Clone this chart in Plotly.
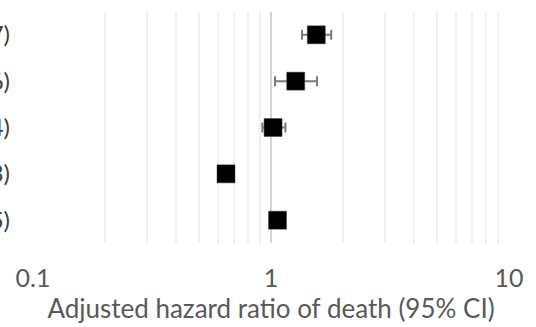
import plotly.graph_objects as go

# Data (hazard ratios and 95% CI)
groups = ["Group 1 (n=1,127)", "Group 2 (n=846)", "Group 3 (n=2,314)", "Group 4 (n=593)", "Group 5 (n=1,065)"]
hr = [1.55, 1.27, 1.02, 0.647, 1.065]
ci_low = [1.35, 1.04, 0.92, 0.61, 1.02]
ci_high = [1.79, 1.56, 1.15, 0.69, 1.11]
x_tick_vals = [0.1, 1, 10]
x_tick_text = ["0.1", "1", "10"]
x_title = "Adjusted hazard ratio of death (95% CI)"

err_plus = [h - l for h, l in zip(ci_high, hr)]
err_minus = [h - l for h, l in zip(hr, ci_low)]

fig = go.Figure()
fig.add_trace(go.Scatter(
    x=hr, y=groups, mode="markers",
    marker=dict(symbol="square", size=18, color="#000000", line=dict(width=0.5, color="#444444")),
    error_x=dict(type="data", symmetric=False, array=err_plus, arrayminus=err_minus,
                 color="#7a7a7a", thickness=2, width=5),
    showlegend=False,
))

font_family = "Lato, 'Open Sans', sans-serif"
fig.update_layout(
    width=536, height=327,
    margin=dict(l=33, r=27, t=12, b=84),
    paper_bgcolor="white", plot_bgcolor="white",
    font=dict(family=font_family, color="#595959", size=25),
    xaxis=dict(
        type="log", range=[-1, 1],
        tickvals=x_tick_vals, ticktext=x_tick_text,
        showgrid=True, gridcolor="#d4d4d4", gridwidth=2,
        showline=False, zeroline=False, ticks="",
        ticklabelstandoff=18, automargin=False,
        tickfont=dict(size=25, color="#595959"),
        title=dict(text=x_title, font=dict(size=26, color="#595959"), standoff=8),
        minor=dict(dtick="D1", showgrid=True, gridcolor="#efefef", gridwidth=2, ticks=""),
        fixedrange=True,
    ),
    yaxis=dict(
        type="category", categoryorder="array", categoryarray=groups,
        autorange="reversed",
        showgrid=False, showline=False, zeroline=False, ticks="",
        ticklabelstandoff=22, automargin=False,
        tickfont=dict(size=24, color="#404040"),
    ),
)

fig.write_html("out.html", config={"displayModeBar": False},
               post_script="document.body.style.margin='0';")
